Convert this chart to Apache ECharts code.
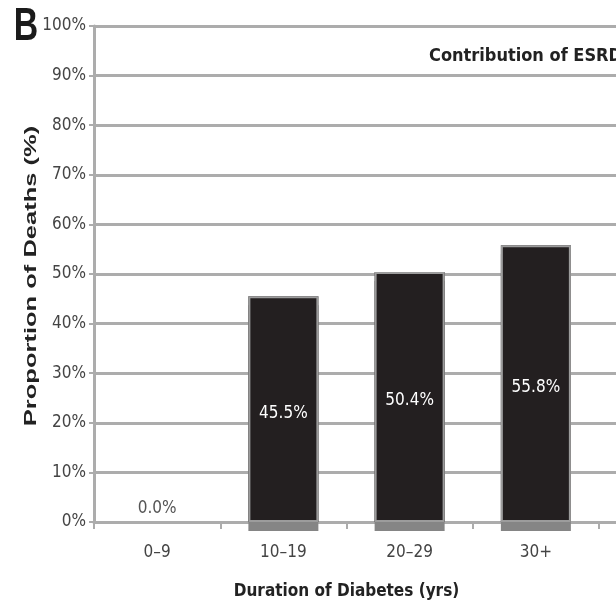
<!DOCTYPE html>
<html>
<head>
<meta charset="utf-8">
<script src="https://cdn.jsdelivr.net/npm/echarts@6/dist/echarts.min.js"></script>
<style>
  html, body { margin: 0; padding: 0; background: #fff; }
  #chart { width: 616px; height: 602px; }
</style>
</head>
<body>
<div id="chart"></div>
<script>
// Share of deaths attributable to ESRD, by duration of diabetes
const categories = ['0–9', '10–19', '20–29', '30+'];
const esrdShare = [0.0, 45.5, 50.4, 55.8];
const yTicks = { min: 0, max: 100, step: 10 };

const NARROW = "'Liberation Sans Narrow', 'DejaVu Sans Condensed', 'Liberation Sans', sans-serif";
const GRID_GREY = '#acacac';

const chart = echarts.init(document.getElementById('chart'), null, { renderer: 'canvas' });

// front bars: dark fill with a light grey rim; the empty group only carries its label
const frontData = esrdShare.map(v => v === 0
  ? { value: v, itemStyle: { borderWidth: 0 },
      label: { position: 'top', distance: 5, offset: [0, 0], color: '#555' } }
  : { value: v });

// back bars: same heights, only there to cast the grey footing below the baseline
const backData = esrdShare.map(v => v === 0
  ? { value: v, itemStyle: { shadowColor: 'transparent', color: 'transparent' } }
  : { value: v });

const yShared = {
  type: 'value',
  min: yTicks.min,
  max: yTicks.max,
  interval: yTicks.step,
  splitLine: { show: true, lineStyle: { color: GRID_GREY, width: 3 } }
};

chart.setOption({
  animation: false,
  backgroundColor: '#fff',
  title: {
    text: 'Contribution of ESRD',
    left: 424,
    top: 42,
    textStyle: { fontFamily: NARROW, fontSize: 18, fontWeight: 'bold', color: '#222' }
  },
  grid: [
    { left: 94, top: 26, bottom: 80, right: 17, containLabel: false, outerBoundsMode: 'none' },
    // narrow strip to the right: the rules carry on to the page edge
    { left: 599, top: 26, bottom: 80, right: 0, containLabel: false, outerBoundsMode: 'none' }
  ],
  xAxis: [
    {
      type: 'category',
      gridIndex: 0,
      data: categories,
      boundaryGap: true,
      name: 'Duration of Diabetes (yrs)',
      nameLocation: 'middle',
      nameGap: 61,
      nameTextStyle: { fontFamily: NARROW, fontSize: 17, fontWeight: 'bold', color: '#222' },
      axisLine: { lineStyle: { color: GRID_GREY, width: 3 } },
      axisTick: { show: true, alignWithLabel: false, length: 7, lineStyle: { color: GRID_GREY, width: 2 } },
      axisLabel: { fontFamily: NARROW, fontSize: 17, color: '#444', margin: 22 },
      splitLine: { show: false }
    },
    {
      type: 'category',
      gridIndex: 1,
      data: [''],
      axisLine: { lineStyle: { color: GRID_GREY, width: 3 } },
      axisTick: { show: false },
      axisLabel: { show: false },
      splitLine: { show: false }
    }
  ],
  yAxis: [
    Object.assign({}, yShared, {
      gridIndex: 0,
      axisLine: { show: true, lineStyle: { color: GRID_GREY, width: 3 } },
      axisTick: { show: true, length: 5, lineStyle: { color: GRID_GREY, width: 2 } },
      axisLabel: { fontFamily: NARROW, fontSize: 17, color: '#444', margin: 8,
        formatter: v => v + '%' }
    }),
    Object.assign({}, yShared, {
      gridIndex: 1,
      axisLine: { show: false },
      axisTick: { show: false },
      axisLabel: { show: false }
    })
  ],
  series: [
    {
      type: 'bar',
      data: backData,
      barWidth: 70,
      barGap: '-100%',
      silent: true,
      z: 1,
      itemStyle: {
        color: '#231f20',
        shadowColor: '#858585',
        shadowBlur: 0,
        shadowOffsetY: 9
      },
      label: { show: false }
    },
    {
      type: 'bar',
      data: frontData,
      barWidth: 70,
      barGap: '-100%',
      z: 2,
      itemStyle: {
        color: '#231f20',
        borderColor: '#9c9c9c',
        borderWidth: 2
      },
      label: {
        show: true,
        position: 'inside',
        offset: [0, 4],
        fontFamily: NARROW,
        fontSize: 17,
        color: '#fff',
        formatter: p => p.value.toFixed(1) + '%'
      }
    }
  ],
  graphic: [
    {
      type: 'text',
      x: 26, y: 27,
      scaleX: 0.72,
      style: { text: 'B', font: "bold 47px 'Liberation Sans', Arial, sans-serif", fill: '#1b1b1b',
        textAlign: 'center', textVerticalAlign: 'middle' }
    },
    {
      type: 'text',
      x: 31, y: 276,
      rotation: Math.PI / 2,
      scaleX: 1.5,
      style: { text: 'Proportion of Deaths (%)', font: "bold 17px 'Liberation Sans', Arial, sans-serif",
        fill: '#222', textAlign: 'center', textVerticalAlign: 'middle' }
    }
  ]
});
</script>
</body>
</html>
